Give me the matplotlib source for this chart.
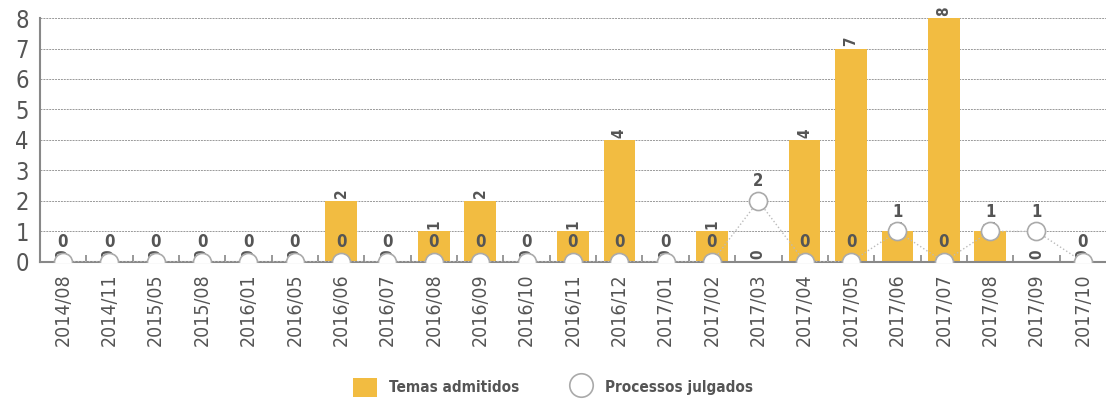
import numpy as np
import matplotlib.pyplot as plt

# data
meses = ['2014/08', '2014/11', '2015/05', '2015/08', '2016/01', '2016/05',
         '2016/06', '2016/07', '2016/08', '2016/09', '2016/10', '2016/11',
         '2016/12', '2017/01', '2017/02', '2017/03', '2017/04', '2017/05',
         '2017/06', '2017/07', '2017/08', '2017/09', '2017/10']
temas_admitidos = [0, 0, 0, 0, 0, 0, 2, 0, 1, 2, 0, 1, 4, 0, 1, 0, 4, 7, 1, 8, 1, 0, 0]
processos_julgados = [0, 0, 0, 0, 0, 0, 0, 0, 0, 0, 0, 0, 0, 0, 0, 2, 0, 0, 1, 0, 1, 1, 0]

plt.rcParams['font.family'] = ['DejaVu Sans']
plt.rcParams['font.stretch'] = 'condensed'

gold = '#F2BC41'
txt = '#555555'

fig = plt.figure(figsize=(11.06, 4.01), dpi=100)
ax = fig.add_axes([0.036, 0.347, 0.964, 0.608])

x = np.arange(len(meses))
bars = ax.bar(x, temas_admitidos, width=0.68, color=gold, zorder=2)
ax.plot(x, processos_julgados, color='#bbbbbb', lw=1, ls=':', zorder=3)
pts, = ax.plot(x, processos_julgados, ls='none', marker='o', ms=13, mfc='white',
               mec='#aaaaaa', mew=1.2, zorder=5)

for xi, v in zip(x, temas_admitidos):
    ax.text(xi, v + 0.08, str(v), rotation=90, ha='center', va='bottom',
            fontsize=11, fontweight='bold', color=txt, zorder=4)
for xi, v in zip(x, processos_julgados):
    ax.text(xi, v + 0.35, str(v), ha='center', va='bottom',
            fontsize=12, fontweight='bold', color=txt, zorder=6)

ax.set_xlim(-0.5, len(meses) - 0.5)
ax.set_ylim(0, 8)
ax.set_yticks(range(0, 9))
ax.yaxis.grid(True, ls=(0, (2, 1)), color='#999999', lw=0.7, zorder=0)
ax.set_xticks(x)
ax.set_xticklabels(meses, rotation=90, fontsize=14, color=txt)
ax.set_xticks(x[:-1] + 0.5, minor=True)
ax.tick_params(axis='x', which='major', length=0, pad=8)
ax.tick_params(axis='x', which='minor', direction='in', length=5,
               color='#888888', width=1.2)
ax.tick_params(axis='y', length=0, labelsize=17, labelcolor=txt, pad=8)
for s in ['top', 'right']:
    ax.spines[s].set_visible(False)
for s in ['left', 'bottom']:
    ax.spines[s].set_color('#888888')
    ax.spines[s].set_linewidth(1.5)

leg = fig.legend([bars, pts], ['Temas admitidos', 'Processos julgados'],
                 loc='lower center', bbox_to_anchor=(0.5, -0.025), ncol=2,
                 frameon=False, fontsize=11, handlelength=1.6, handleheight=1.6,
                 columnspacing=3.2, markerscale=1.3)
for t in leg.get_texts():
    t.set_color(txt)
    t.set_fontweight('bold')

fig.savefig('out.png', dpi=100)
